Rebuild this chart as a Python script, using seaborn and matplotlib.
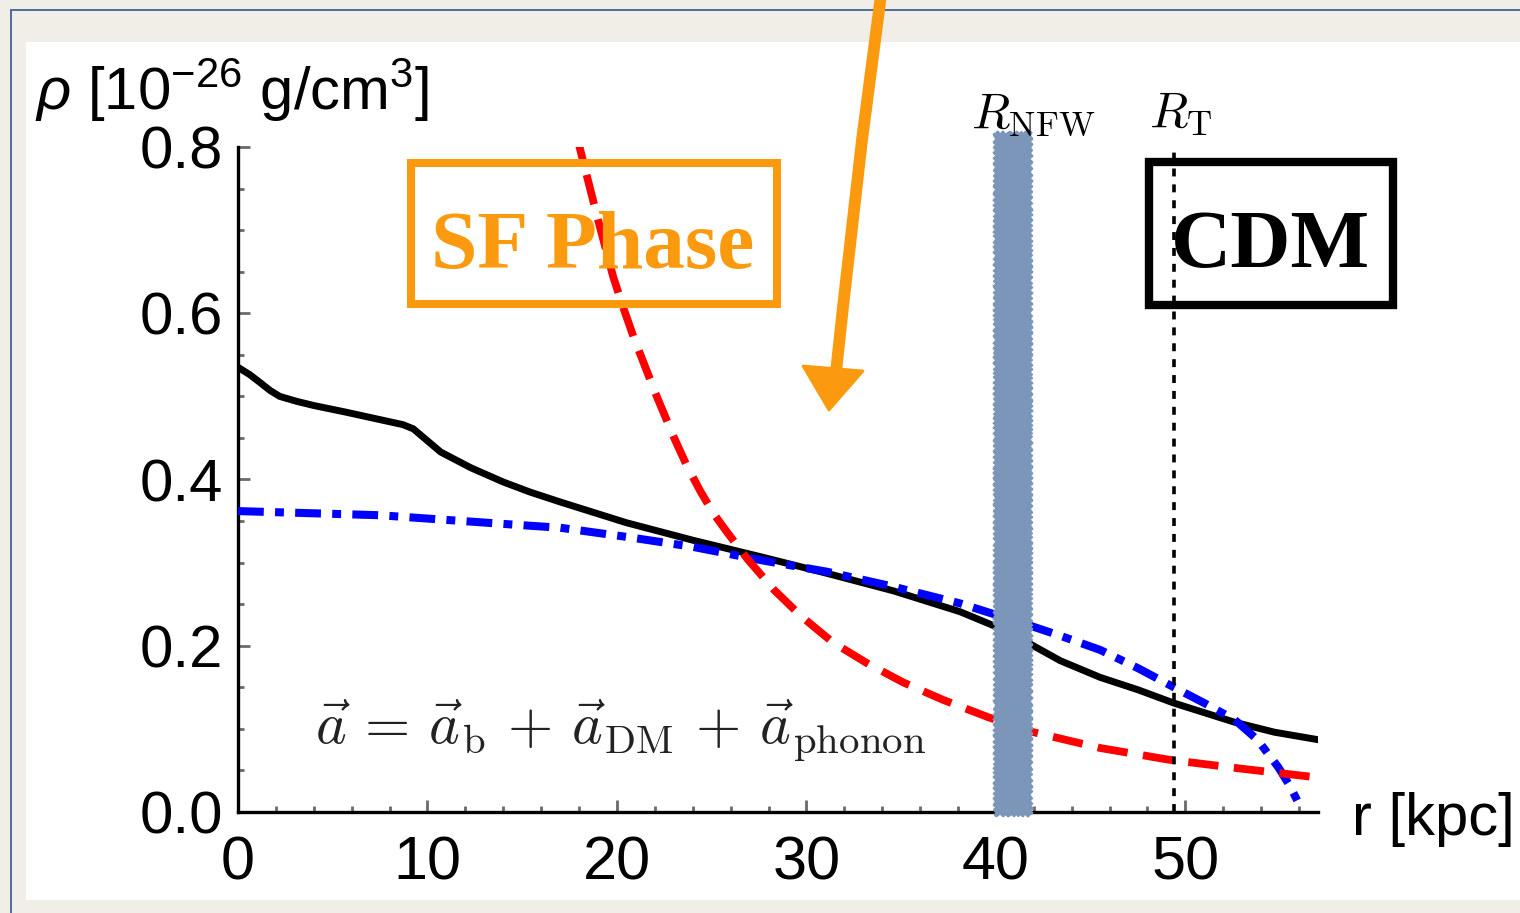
import numpy as np
import pandas as pd
import matplotlib
matplotlib.use("Agg")
import matplotlib.pyplot as plt
import seaborn as sns
from matplotlib.patches import Rectangle, Polygon
from matplotlib.lines import Line2D
from matplotlib.ticker import MultipleLocator, FormatStrFormatter

# ---------------- data ----------------
r_total = [0.0, 0.63, 1.2, 1.7, 2.2, 3.1, 4.0, 5.7, 7.5, 8.7, 9.25, 10.7, 12.3, 14.0,
           15.4, 17.0, 18.4, 20.5, 24.0, 27.6, 31.1, 34.6, 38.1, 39.9, 41.5, 43.4,
           45.5, 47.5, 49.4, 52.6, 54.7, 57.0]
rho_total = [0.535, 0.526, 0.516, 0.507, 0.500, 0.494, 0.489, 0.481, 0.472, 0.466,
             0.461, 0.433, 0.414, 0.397, 0.385, 0.373, 0.363, 0.348, 0.327, 0.307,
             0.287, 0.266, 0.241, 0.224, 0.206, 0.182, 0.162, 0.147, 0.131, 0.108,
             0.096, 0.087]

r_sf = [0.0, 7.5, 15.0, 17.0, 20.5, 24.0, 27.6, 31.1, 34.6, 38.1, 41.7, 43.4, 45.5,
        47.5, 49.4, 51.0, 52.6, 53.8, 54.9, 55.5, 55.9]
rho_sf = [0.362, 0.357, 0.345, 0.342, 0.331, 0.319, 0.303, 0.289, 0.271, 0.251,
          0.225, 0.212, 0.195, 0.173, 0.150, 0.131, 0.111, 0.087, 0.054, 0.032, 0.014]

r_phonon = [17.8, 18.07, 18.96, 19.8, 20.3, 20.9, 22.1, 23.0, 23.7, 24.4, 25.1, 25.8,
            26.9, 28.3, 29.7, 31.4, 33.2, 35.1, 37.2, 39.6, 41.8, 45.5, 49.1, 53.0,
            56.8]
rho_phonon = [0.820, 0.796, 0.716, 0.644, 0.609, 0.570, 0.500, 0.451, 0.416, 0.386,
              0.359, 0.337, 0.304, 0.267, 0.236, 0.204, 0.179, 0.156, 0.135, 0.114,
              0.097, 0.077, 0.063, 0.052, 0.042]

x_ticks = [0, 10, 20, 30, 40, 50]
y_ticks = [0.0, 0.2, 0.4, 0.6, 0.8]
R_T = 49.4

# ---------------- style ----------------
sns.set_style("ticks")
plt.rcParams["font.family"] = ["Liberation Sans", "DejaVu Sans"]
plt.rcParams["mathtext.fontset"] = "custom"
plt.rcParams["mathtext.rm"] = "Liberation Sans"
plt.rcParams["mathtext.it"] = "Liberation Sans:italic"
plt.rcParams["mathtext.bf"] = "Liberation Sans:bold"
plt.rcParams["text.color"] = "black"

W, H = 1520, 913
fig = plt.figure(figsize=(W / 100, H / 100), dpi=100)
fig.patch.set_facecolor("#f1eee8")


def px(x, y):
    return (x / W, 1 - y / H)


# white slide panel and thin frame
fig.patches.append(Rectangle(px(26, 900), (W - 26) / W, (900 - 42) / H,
                             transform=fig.transFigure, facecolor="white",
                             edgecolor="none", zorder=0))
fig.lines.append(Line2D([11 / W, 11 / W], [1 - 10 / H, 0], transform=fig.transFigure,
                        color="#4b6c9c", lw=1.4, zorder=1))
fig.lines.append(Line2D([11 / W, 1], [1 - 10 / H, 1 - 10 / H], transform=fig.transFigure,
                        color="#4b6c9c", lw=1.4, zorder=1))

ax = fig.add_axes([238 / W, 1 - 812 / H, (1318 - 238) / W, (812 - 147) / H])
ax.patch.set_alpha(0)
ax.set_zorder(2)

df_t = pd.DataFrame({"r": r_total, "rho": rho_total})
df_s = pd.DataFrame({"r": r_sf, "rho": rho_sf})
df_p = pd.DataFrame({"r": r_phonon, "rho": rho_phonon})

sns.lineplot(data=df_t, x="r", y="rho", ax=ax, color="black", lw=5.0,
             estimator=None, sort=False, zorder=3)
sns.lineplot(data=df_s, x="r", y="rho", ax=ax, color="#0000ff", lw=5.8,
             estimator=None, sort=False, zorder=3,
             linestyle=(0, (3.2, 1.4, 1.1, 1.4)))
sns.lineplot(data=df_p, x="r", y="rho", ax=ax, color="#ff0000", lw=5.6,
             estimator=None, sort=False, zorder=4,
             linestyle=(0, (3.9, 2.0)))

ax.set_xlim(0, 57)
ax.set_ylim(0, 0.8)
ax.set_xlabel("")
ax.set_ylabel("")
ax.set_xticks(x_ticks)
ax.set_yticks(y_ticks)
ax.xaxis.set_minor_locator(MultipleLocator(2))
ax.yaxis.set_minor_locator(MultipleLocator(0.05))
ax.yaxis.set_major_formatter(FormatStrFormatter("%.1f"))
for s in ["top", "right"]:
    ax.spines[s].set_visible(False)
for s in ["left", "bottom"]:
    ax.spines[s].set_linewidth(2.4)
    ax.spines[s].set_color("black")
ax.tick_params(which="major", direction="in", length=8.5, width=2, color="#6a6a6a",
               labelcolor="black")
ax.tick_params(which="minor", direction="in", length=4.5, width=2, color="#6a6a6a")
ax.tick_params(axis="y", which="major", labelsize=43, pad=11)
ax.tick_params(axis="x", which="major", labelsize=44, pad=17)

# R_NFW stripe and R_T marker
stripe = Rectangle((39.9, -0.004), 1.95, 0.822, facecolor="#7b96b9", edgecolor="#7b96b9",
                   lw=1, clip_on=False, zorder=6)
stripe.set_sketch_params(1.2, 6, 2)
ax.add_patch(stripe)
ax.plot([R_T, R_T], [0, 0.799], color="black", lw=2.6, linestyle=(0, (2.2, 2.2)),
        zorder=7, clip_on=False)

# axis labels as free text
fig.text(35 / W, 1 - 110 / H, r"$\rho$ [10$^{-26}$ g/cm$^3$]", fontsize=43,
         va="baseline", ha="left", color="black")
fig.text(1352 / W, 1 - 835 / H, "r [kpc]", fontsize=43, va="baseline", ha="left",
         color="black")

fig.text(971 / W, 1 - 127 / H, r"$R_{\rm NFW}$", fontsize=36, math_fontfamily="cm",
         va="baseline", ha="left", color="black")
fig.text(1149 / W, 1 - 127 / H, r"$R_{\rm T}$", fontsize=36, math_fontfamily="cm",
         va="baseline", ha="left", color="black")
fig.text(315 / W, 1 - 745 / H,
         r"$\vec{a}\, = \,\vec{a}_{\rm b}\, +\, \vec{a}_{\rm DM}\, +\, \vec{a}_{\rm phonon}$",
         fontsize=42, math_fontfamily="cm", va="baseline", ha="left", color="#222222")

# boxes
orange = "#fb9a0e"
ob = Rectangle(px(411, 304), (777 - 411) / W, (304 - 163) / H, transform=fig.transFigure,
               facecolor="none", edgecolor=orange, lw=5.8, zorder=3, joinstyle="miter")
fig.patches.append(ob)
fig.text(593 / W, 1 - 268 / H, "SF Phase", fontsize=60, color=orange,
         family=["Liberation Serif"], fontweight="bold", ha="center", va="baseline",
         zorder=3)

cb = Rectangle(px(1149, 305), (1393 - 1149) / W, (305 - 162) / H, transform=fig.transFigure,
               facecolor="none", edgecolor="black", lw=6, zorder=3, joinstyle="miter")
fig.patches.append(cb)
fig.text(1270 / W, 1 - 267 / H, "CDM", fontsize=60, color="black",
         family=["Liberation Serif"], fontweight="bold", ha="center", va="baseline",
         zorder=3)

# hand-drawn orange arrow from the top
pts = [px(881, -5), px(862, 140), px(843, 307), px(836, 372)]
arrow_line = Line2D([p[0] for p in pts], [p[1] for p in pts], transform=fig.transFigure,
                    color=orange, lw=8.5, solid_capstyle="round", solid_joinstyle="round",
                    zorder=8)
fig.lines.append(arrow_line)
head = Polygon([px(803, 366), px(863, 371), px(829, 410)], closed=True,
               transform=fig.transFigure, facecolor=orange, edgecolor=orange, lw=2,
               joinstyle="round", zorder=8)
fig.patches.append(head)

fig.savefig("out.png", dpi=100, facecolor=fig.get_facecolor())
